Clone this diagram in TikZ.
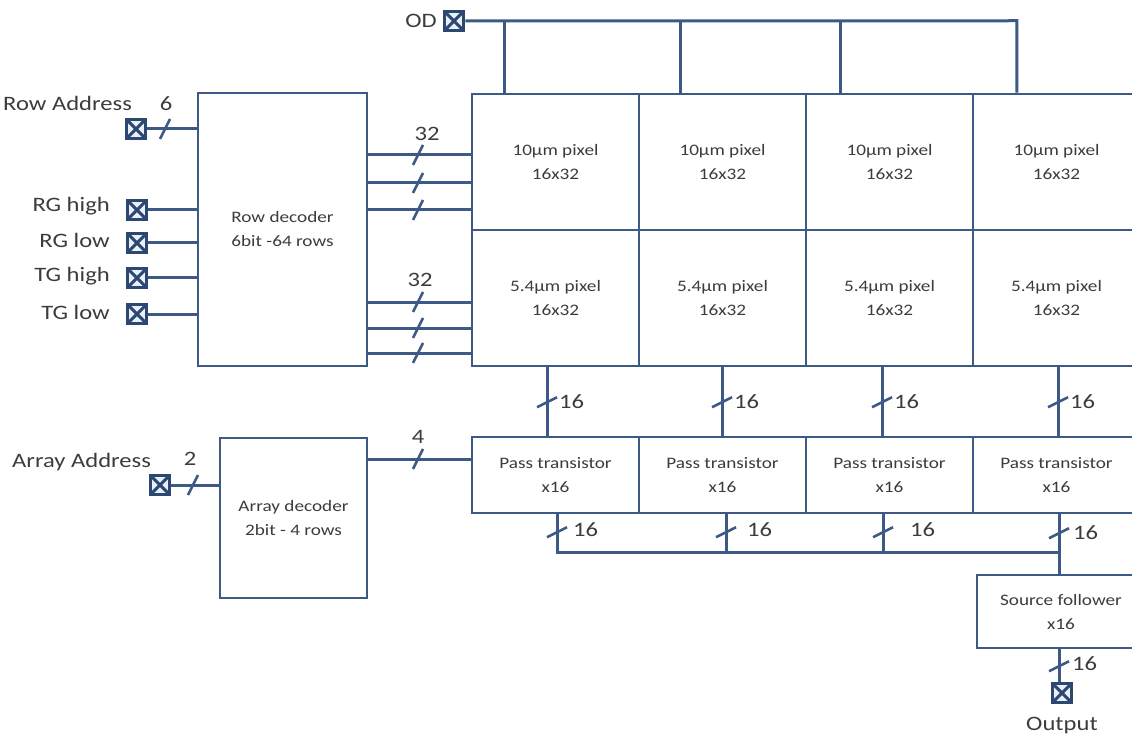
\documentclass[tikz,border=0pt]{standalone}
\usepackage{fontspec}
\setmainfont{Carlito}[FakeStretch=1.2]
\usetikzlibrary{calc}
\definecolor{lc}{RGB}{60,90,133}
\definecolor{tb}{RGB}{45,72,112}
\definecolor{tc}{RGB}{60,60,60}
\definecolor{tf}{RGB}{232,239,248}
\newcommand\busH[1]{\draw[busmark] ($(#1)+(-5,10)$) -- ($(#1)+(5,-10)$);}
\newcommand\busV[1]{\draw[busmark] ($(#1)+(-10,5)$) -- ($(#1)+(10,-5)$);}
\begin{document}
\begin{tikzpicture}[x=1pt,y=-1pt,
 wire/.style={draw=lc,line width=3pt},
 blk/.style={draw=lc,line width=2.5pt,fill=white,rectangle,inner sep=0pt,align=center,text=tc,font=\fontsize{16}{24}\selectfont},
 term/.style={draw=tb,line width=3pt,fill=tf,rectangle,minimum size=19.5pt,inner sep=0pt,
   path picture={\draw[tb,line width=3pt] (path picture bounding box.north west)--(path picture bounding box.south east) (path picture bounding box.north east)--(path picture bounding box.south west);}},
 lbl/.style={text=tc,font=\fontsize{20.5}{24}\selectfont,inner sep=0pt},
 busmark/.style={draw=lc,line width=2.5pt}
]
\clip (0,0) rectangle (1132,735);
\useasboundingbox (0,0) rectangle (1132,735);

% blocks
\node[blk,minimum width=169pt,minimum height=273pt] (rd) at (282.5,229.5) {Row decoder\\6bit -64 rows};
\node[blk,minimum width=147pt,minimum height=160pt] (ad) at (293.5,518) {Array decoder\\2bit - 4 rows};
\foreach \i/\x in {1/555.5,2/722.5,3/889.5,4/1056.5}{
  \node[blk,minimum width=167pt,minimum height=136pt] (p\i) at (\x,162) {10µm pixel\\16x32};
  \node[blk,minimum width=167pt,minimum height=136pt] (q\i) at (\x,298) {5.4µm pixel\\16x32};
  \node[blk,minimum width=167pt,minimum height=76pt] (t\i) at (\x,475) {Pass transistor\\x16};
}
\node[blk,minimum width=168pt,minimum height=73pt] (sf) at (1061,611.5) {Source follower\\x16};

% terminals
\node[term] (od) at (454,21) {};
\node[term] (ra) at (136,129) {};
\node[term] (rgh) at (137,210) {};
\node[term] (rgl) at (137,243) {};
\node[term] (tgh) at (137,278) {};
\node[term] (tgl) at (137,314) {};
\node[term] (aa) at (160,485) {};

% labels
\node[lbl,anchor=east] at (437,21) {OD};
\node[lbl,anchor=west] at (3,103) {Row Address};
\node[lbl] at (166,104) {6};
\node[lbl,anchor=east] at (110,206) {RG high};
\node[lbl,anchor=east] at (110,240) {RG low};
\node[lbl,anchor=east] at (110,276) {TG high};
\node[lbl,anchor=east] at (110,312) {TG low};
\node[lbl,anchor=west] at (12,462) {Array Address};
\node[lbl] at (190,459) {2};
\node[lbl] at (427,134) {32};
\node[lbl] at (420,280) {32};
\node[lbl] at (418,437) {4};
\node[lbl] at (1062,725) {Output};

% OD bus
\draw[wire] (od.east) -- ($(p4.north west)+(45,-72)$) -- ($(p4.north west)+(45,0)$);
\draw[wire] ($(p1.north west)+(34,-72)$) -- ($(p1.north west)+(34,0)$);
\draw[wire] ($(p2.north west)+(43,-72)$) -- ($(p2.north west)+(43,0)$);
\draw[wire] ($(p3.north west)+(36,-72)$) -- ($(p3.north west)+(36,0)$);

% row decoder inputs
\draw[wire] (ra.east) -- (ra.east -| rd.west);
\busH{165,129}
\foreach \t in {rgh,rgl,tgh,tgl} \draw[wire] (\t.east) -- (\t.east -| rd.west);

% row decoder outputs
\foreach \yy in {155,183,210,302,328,353}{
  \draw[wire] (rd.east |- 0,\yy) -- (p1.west |- 0,\yy);
  \busH{418,\yy}
}

% pixel -> pass transistor
\foreach \i/\dx in {1/-8.5,2/-0.5,3/-7.5,4/1.5}{
  \draw[wire] ($(q\i.south)+(\dx,0)$) -- ($(t\i.north)+(\dx,0)$);
  \busV{$(q\i.south)+(\dx,35)$}
  \node[lbl,anchor=west] at ($(q\i.south)+(\dx+12,34)$) {16};
}

% array decoder
\draw[wire] (aa.east) -- (aa.east -| ad.west);
\busH{193,485}
\draw[wire] (ad.east |- 0,459) -- (t1.west |- 0,459);
\busH{418,459}

% pass transistor -> bus
\coordinate (b1) at ($(t1.south)+(1.5,38)$);
\coordinate (b4) at ($(t4.south)+(2.5,38)$);
\draw[wire] ($(t1.south)+(1.5,0)$) -- (b1) -- (b4) -- (b4 |- sf.north);
\draw[wire] ($(t2.south)+(3.5,0)$) -- ($(t2.south)+(3.5,38)$);
\draw[wire] ($(t3.south)+(-6.5,0)$) -- ($(t3.south)+(-6.5,38)$);
\draw[wire] ($(t4.south)+(2.5,0)$) -- (b4);
\busV{$(t1.south)+(1.5,18)$}
\busV{$(t2.south)+(3.5,18)$}
\busV{$(t3.south)+(-6.5,18)$}
\busV{$(t4.south)+(2.5,19)$}
\node[lbl,anchor=west] at (573,530) {16};
\node[lbl,anchor=west] at (747,530) {16};
\node[lbl,anchor=west] at (910,530) {16};
\node[lbl,anchor=west] at (1073,533) {16};

% source follower -> output
\node[term] (out) at (1062,693) {};
\draw[wire] (sf.south -| b4) -- (out.north -| b4);
\busV{$(sf.south -| b4)+(0,17)$}
\node[lbl,anchor=west] at (1072,664) {16};
\end{tikzpicture}
\end{document}
